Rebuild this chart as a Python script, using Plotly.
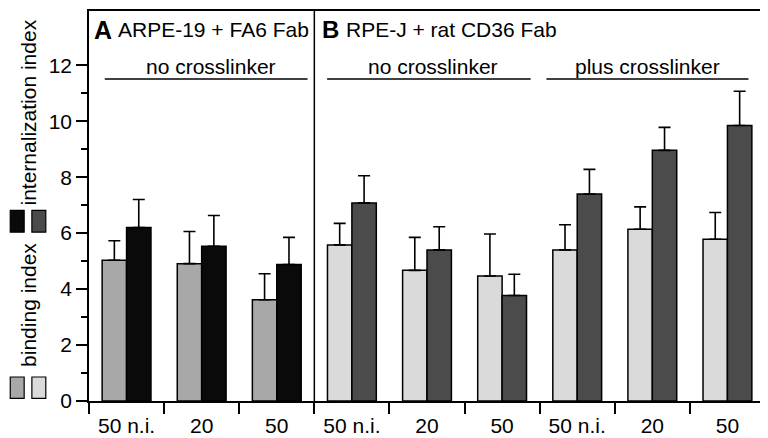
import plotly.graph_objects as go

# ---------------- data ----------------
categories = ["50 n.i.", "20", "50", "50 n.i.", "20", "50", "50 n.i.", "20", "50"]
binding = [5.03, 4.91, 3.62, 5.58, 4.67, 4.47, 5.40, 6.14, 5.78]
binding_err = [0.70, 1.15, 0.93, 0.77, 1.18, 1.50, 0.90, 0.80, 0.96]
internalization = [6.20, 5.53, 4.88, 7.08, 5.40, 3.77, 7.40, 8.96, 9.85]
internalization_err = [1.00, 1.10, 0.97, 0.97, 0.83, 0.76, 0.88, 0.82, 1.22]
y_ticks = [0, 2, 4, 6, 8, 10, 12]
y_minor = [1, 3, 5, 7, 9, 11]

# styles
C_A_BIND = "#a8a8a8"
C_A_INT = "#0a0a0a"
C_B_BIND = "#dadada"
C_B_INT = "#4b4b4b"
bind_colors = [C_A_BIND] * 3 + [C_B_BIND] * 6
int_colors = [C_A_INT] * 3 + [C_B_INT] * 6
FONT = "Liberation Sans, Arial, Helvetica, sans-serif"

xs = list(range(len(categories)))

fig = go.Figure()
fig.add_trace(go.Bar(
    x=xs, y=binding, name="binding index",
    marker=dict(color=bind_colors, line=dict(color="black", width=1.5)),
    error_y=dict(type="data", symmetric=False, array=binding_err,
                 arrayminus=[0] * len(binding), color="black",
                 thickness=1.6, width=6),
))
fig.add_trace(go.Bar(
    x=xs, y=internalization, name="internalization index",
    marker=dict(color=int_colors, line=dict(color="black", width=1.5)),
    error_y=dict(type="data", symmetric=False, array=internalization_err,
                 arrayminus=[0] * len(internalization), color="black",
                 thickness=1.6, width=6),
))

# page body has an 8px default margin: size the figure to fill the rest
fig.update_layout(
    width=760, height=430,
    margin=dict(l=81, r=1, t=3, b=32),
    paper_bgcolor="white", plot_bgcolor="white",
    barmode="group", bargap=0.35, bargroupgap=0,
    showlegend=False,
    font=dict(family=FONT, color="black", size=20),
)

bounds = [i - 0.5 for i in range(len(categories) + 1)]
fig.update_xaxes(
    range=[-0.5, len(categories) - 0.5],
    tickmode="array", tickvals=xs, ticktext=categories,
    ticks="outside", ticklen=5, tickcolor="rgba(0,0,0,0)",
    tickfont=dict(size=21, family=FONT, color="black"),
    showline=True, linecolor="black", linewidth=1.5, mirror=True,
    showgrid=False, zeroline=False,
    minor=dict(tickmode="array", tickvals=bounds, ticks="outside",
               ticklen=11, tickwidth=1.5, tickcolor="black", showgrid=False),
)
fig.update_yaxes(
    range=[0, 13.94],
    tickmode="array", tickvals=y_ticks,
    ticks="outside", ticklen=11, tickwidth=1.5, tickcolor="black",
    tickfont=dict(size=21, family=FONT, color="black"),
    showline=True, linecolor="black", linewidth=1.5, mirror=True,
    showgrid=False, zeroline=False,
    minor=dict(tickmode="array", tickvals=y_minor, ticks="outside",
               ticklen=6, tickwidth=1.5, tickcolor="black", showgrid=False),
)

# panel divider
fig.add_shape(type="line", xref="x", yref="paper", x0=2.5, x1=2.5, y0=0, y1=1,
              line=dict(color="black", width=1.5))

# group lines and labels
groups = [(-0.29, 2.41, 1.12, "no crosslinker"),
          (2.67, 5.38, 4.08, "no crosslinker"),
          (5.59, 8.28, 6.93, "plus crosslinker")]
for x0, x1, xc, txt in groups:
    fig.add_shape(type="line", xref="x", yref="y", x0=x0, x1=x1, y0=11.51, y1=11.51,
                  line=dict(color="black", width=1.5))
    fig.add_annotation(x=xc, y=11.97, xref="x", yref="y", text=txt, showarrow=False,
                       xanchor="center", yanchor="middle",
                       font=dict(size=21, family=FONT, color="black"))

# panel headings
fig.add_annotation(x=-0.46, y=0.952, xref="x", yref="paper", text="<b>A</b>",
                   showarrow=False, xanchor="left", yanchor="middle",
                   font=dict(size=25, family=FONT, color="black"))
fig.add_annotation(x=-0.14, y=0.952, xref="x", yref="paper", text="ARPE-19 + FA6 Fab",
                   showarrow=False, xanchor="left", yanchor="middle",
                   font=dict(size=21, family=FONT, color="black"))
fig.add_annotation(x=2.57, y=0.952, xref="x", yref="paper", text="<b>B</b>",
                   showarrow=False, xanchor="left", yanchor="middle",
                   font=dict(size=24, family=FONT, color="black"))
fig.add_annotation(x=2.9, y=0.952, xref="x", yref="paper", text="RPE-J + rat CD36 Fab",
                   showarrow=False, xanchor="left", yanchor="middle",
                   font=dict(size=21, family=FONT, color="black"))

# left-side key: colour squares with rotated labels
key_squares = [
    (-0.1165, -0.0959, 0.4329, 0.4886, C_A_INT),
    (-0.0845, -0.0639, 0.4329, 0.4886, C_B_INT),
    (-0.1165, -0.0959, 0.0068, 0.0615, C_A_BIND),
    (-0.0845, -0.0639, 0.0068, 0.0615, C_B_BIND),
]
for x0, x1, y0, y1, col in key_squares:
    fig.add_shape(type="rect", xref="paper", yref="paper", x0=x0, x1=x1, y0=y0, y1=y1,
                  fillcolor=col, line=dict(color="black", width=1.2))
fig.add_annotation(x=-0.0892, y=0.739, xref="paper", yref="paper",
                   text="internalization index", textangle=-90, showarrow=False,
                   xanchor="center", yanchor="middle",
                   font=dict(size=21, family=FONT, color="black"))
fig.add_annotation(x=-0.0892, y=0.2456, xref="paper", yref="paper",
                   text="binding index", textangle=-90, showarrow=False,
                   xanchor="center", yanchor="middle",
                   font=dict(size=21, family=FONT, color="black"))

fig.write_html("out.html")
